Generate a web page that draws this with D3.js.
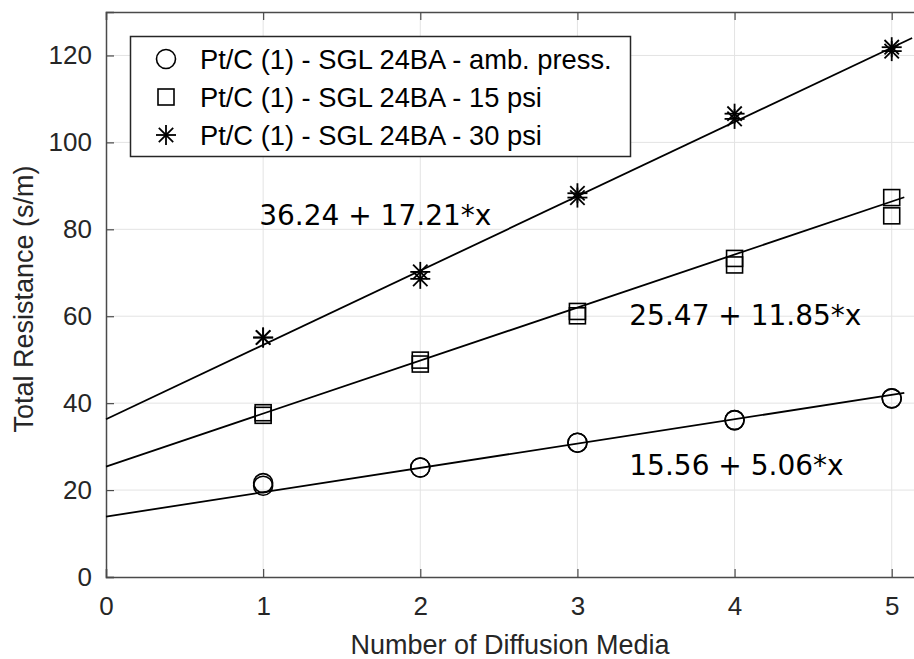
<!DOCTYPE html>
<html>
<head>
<meta charset="utf-8">
<script src="https://cdn.jsdelivr.net/npm/d3@7"></script>
<style>
    body { margin: 0; background: #fff; }
    svg { display: block; }
</style>
</head>
<body>
<div id="container"></div>
<script>
// series labels, shown in the legend
const seriesNames = [
    "Pt/C (1) - SGL 24BA - amb. press.",
    "Pt/C (1) - SGL 24BA - 15 psi",
    "Pt/C (1) - SGL 24BA - 30 psi"
];
const markerTypes = ["circle", "square", "star"];

// measured points (two replicates per number of diffusion media)
const mediaCount = [1, 1, 2, 2, 3, 3, 4, 4, 5, 5];
const ambValues = [21.0, 21.6, 25.2, 25.2, 30.9, 30.9, 36.1, 36.1, 41.1, 41.1];
const psi15Values = [37.2, 37.8, 49.0, 49.9, 60.1, 61.1, 71.8, 73.3, 83.1, 87.3];
const psi30Values = [55.1, 55.1, 68.6, 70.2, 87.3, 88.3, 105.4, 106.6, 121.0, 121.9];

// fitted lines as drawn in the picture
const fitIntercepts = [13.9, 25.4, 36.3];
const fitSlopes = [5.6, 12.2, 17.1];
const fitEnds = [5.08, 5.08, 5.13];

// fit annotations
const fitLabels = ["15.56 + 5.06*x", "25.47 + 11.85*x", "36.24 + 17.21*x"];
const fitLabelPos = [[3.33, 25.8], [3.33, 60.4], [0.975, 83.2]];

const xTicks = [0, 1, 2, 3, 4, 5];
const yTicks = [0, 20, 40, 60, 80, 100, 120];

const width = 914, height = 659;
const margin = {left: 106, top: 12, bottom: 82};
const plotRight = 931; // right border falls outside the picture

const svg = d3.select("#container").append("svg")
    .attr("width", width)
    .attr("height", height);

const x = d3.scaleLinear().domain([0, 5.25]).range([margin.left, plotRight]);
const y = d3.scaleLinear().domain([0, 130]).range([height - margin.bottom, margin.top]);

const axisColor = "#4a4a4a";
const textColor = "#262626";

// grid
const grid = svg.append("g");
grid.selectAll(".gx").data(xTicks.slice(1)).enter().append("line")
    .attr("x1", d => x(d)).attr("x2", d => x(d))
    .attr("y1", y(0)).attr("y2", y(130))
    .attr("stroke", "#e3e3e3").attr("stroke-width", 1);
grid.selectAll(".gy").data(yTicks.slice(1)).enter().append("line")
    .attr("x1", x(0)).attr("x2", plotRight)
    .attr("y1", d => y(d)).attr("y2", d => y(d))
    .attr("stroke", "#e3e3e3").attr("stroke-width", 1);

// axes (ticks point inward, like matlab)
const xAxis = d3.axisBottom(x).tickValues(xTicks).tickSize(-8).tickPadding(20).tickFormat(d3.format("d"));
const yAxis = d3.axisLeft(y).tickValues(yTicks).tickSize(-8).tickPadding(14).tickFormat(d3.format("d"));
const xTop = d3.axisTop(x).tickValues(xTicks).tickSize(-8).tickFormat("");

function styleAxis(g) {
    g.select(".domain").attr("stroke", axisColor).attr("stroke-width", 1.5);
    g.selectAll(".tick line").attr("stroke", axisColor).attr("stroke-width", 1.2);
    g.selectAll(".tick text")
        .attr("fill", textColor)
        .style("font-family", "'Liberation Sans', Arial, sans-serif")
        .style("font-size", "26px");
}

svg.append("g").attr("transform", `translate(0,${y(0)})`).call(xAxis).call(styleAxis);
svg.append("g").attr("transform", `translate(${x(0)},0)`).call(yAxis).call(styleAxis);
svg.append("g").attr("transform", `translate(0,${y(130)})`).call(xTop).call(styleAxis);

// fit lines
const line = d3.line().x(d => x(d[0])).y(d => y(d[1]));
fitIntercepts.forEach(function(b, i) {
    svg.append("path")
        .attr("d", line([[0, b], [fitEnds[i], b + fitSlopes[i] * fitEnds[i]]]))
        .attr("fill", "none")
        .attr("stroke", "#000")
        .attr("stroke-width", 1.8);
});

// marker drawing
function drawMarker(g, type, cx, cy) {
    if (type === "circle") {
        g.append("circle").attr("cx", cx).attr("cy", cy).attr("r", 9.5)
            .attr("fill", "none").attr("stroke", "#000").attr("stroke-width", 1.6);
    } else if (type === "square") {
        g.append("rect").attr("x", cx - 8).attr("y", cy - 8)
            .attr("width", 16).attr("height", 16)
            .attr("fill", "none").attr("stroke", "#000").attr("stroke-width", 1.6);
    } else {
        const r = 10, d = r * 0.72;
        const segs = [[-r, 0, r, 0], [0, -r, 0, r], [-d, -d, d, d], [-d, d, d, -d]];
        segs.forEach(s => {
            g.append("line")
                .attr("x1", cx + s[0]).attr("y1", cy + s[1])
                .attr("x2", cx + s[2]).attr("y2", cy + s[3])
                .attr("stroke", "#000").attr("stroke-width", 1.8);
        });
    }
}

const seriesValues = [ambValues, psi15Values, psi30Values];
const markers = svg.append("g");
seriesValues.forEach(function(vals, i) {
    vals.forEach(function(v, j) {
        drawMarker(markers, markerTypes[i], x(mediaCount[j]), y(v));
    });
});

// fit annotations
fitLabels.forEach(function(t, i) {
    svg.append("text")
        .attr("x", x(fitLabelPos[i][0]))
        .attr("y", y(fitLabelPos[i][1]))
        .attr("dy", "0.36em")
        .attr("fill", "#000")
        .style("font-family", "'DejaVu Sans', Verdana, sans-serif")
        .style("font-size", "28px")
        .text(t);
});

// legend
const legend = svg.append("g");
legend.append("rect")
    .attr("x", 130.5).attr("y", 36.5)
    .attr("width", 500).attr("height", 120)
    .attr("fill", "#fff")
    .attr("stroke", "#262626").attr("stroke-width", 1.5);
seriesNames.forEach(function(name, i) {
    const cy = 59 + i * 38;
    drawMarker(legend, markerTypes[i], 166, cy);
    legend.append("text")
        .attr("x", 200).attr("y", cy)
        .attr("dy", "0.36em")
        .attr("fill", "#000")
        .style("font-family", "'Liberation Sans', Arial, sans-serif")
        .style("font-size", "27.3px")
        .text(name);
});

// axis titles
svg.append("text")
    .attr("x", 510).attr("y", 654)
    .attr("text-anchor", "middle")
    .attr("fill", textColor)
    .style("font-family", "'Liberation Sans', Arial, sans-serif")
    .style("font-size", "27px")
    .text("Number of Diffusion Media");

svg.append("text")
    .attr("transform", "translate(33,299) rotate(-90)")
    .attr("text-anchor", "middle")
    .attr("fill", textColor)
    .style("font-family", "'Liberation Sans', Arial, sans-serif")
    .style("font-size", "27px")
    .text("Total Resistance (s/m)");
</script>
</body>
</html>
